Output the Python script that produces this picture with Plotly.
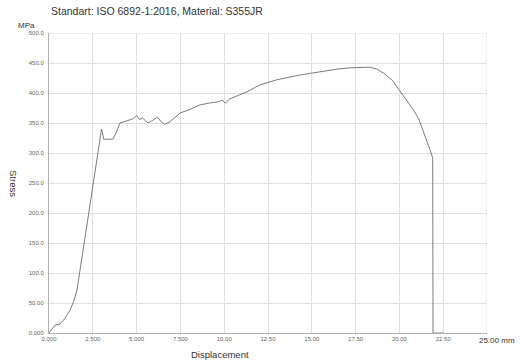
import plotly.graph_objects as go

# Tensile test record: displacement (mm) vs. engineering stress (MPa)
displacement = [0.0, 0.15, 0.34, 0.63, 0.9, 1.2, 1.4, 1.6, 1.8, 1.95, 2.3, 2.6, 2.9, 3.0,
                3.08, 3.12, 3.65, 3.85, 4.05, 4.4, 4.8, 5.0, 5.15, 5.35, 5.65, 5.9, 6.2,
                6.4, 6.6, 6.9, 7.2, 7.5, 8.0, 8.6, 9.1, 9.6, 9.9, 10.05, 10.3, 11.3, 12.0,
                13.0, 14.3, 15.5, 16.5, 17.2, 17.8, 18.3, 18.7, 19.1, 19.6, 20.0, 20.4,
                20.8, 21.1, 21.35, 21.6, 21.75, 21.9, 21.92, 22.5]
stress = [0, 6, 13, 15, 24, 38, 52, 72, 110, 145, 210, 268, 325, 340,
          330, 323, 323, 335, 350, 353, 357, 363, 356, 358, 350, 354, 360,
          352, 348, 352, 360, 367, 372, 380, 383, 385, 388, 383, 390, 402, 413,
          422, 430, 436, 440, 442, 443, 443, 440, 433, 421, 405, 390,
          372, 357, 338, 318, 305, 292, 0, 0]

x_ticks = [0, 2.5, 5, 7.5, 10, 12.5, 15, 17.5, 20, 22.5]
x_tick_text = ["0.000", "2.500", "5.000", "7.500", "10.00", "12.50", "15.00",
               "17.50", "20.00", "22.50"]
y_ticks = [0, 50, 100, 150, 200, 250, 300, 350, 400, 450, 500]
y_tick_text = ["0.000", "50.00", "100.0", "150.0", "200.0", "250.0", "300.0",
               "350.0", "400.0", "450.0", "500.0"]

title_text = "Standart: ISO 6892-1:2016, Material: S355JR"
font_family = "Liberation Sans, Arial, sans-serif"

fig = go.Figure()
fig.add_trace(go.Scatter(
    x=displacement, y=stress, mode="lines",
    line=dict(color="#7c7c7c", width=1),
    hoverinfo="skip", showlegend=False,
))

grid = "#e0e0e0"
fig.update_layout(
    width=520, height=364,
    margin=dict(l=49, r=33, t=33, b=31),
    paper_bgcolor="white", plot_bgcolor="white",
    font=dict(family=font_family, color="#444"),
    xaxis=dict(
        range=[0, 25], tickvals=x_ticks, ticktext=x_tick_text,
        showgrid=True, gridcolor=grid, gridwidth=1,
        showline=True, linecolor="#b0b0b0", linewidth=1, mirror=False,
        zeroline=False, ticks="", tickfont=dict(size=6, color="#666"),
        fixedrange=True,
    ),
    yaxis=dict(
        range=[0, 500], tickvals=y_ticks, ticktext=y_tick_text,
        showgrid=True, gridcolor=grid, gridwidth=1,
        showline=True, linecolor="#b0b0b0", linewidth=1,
        zeroline=False, ticks="", tickfont=dict(size=6, color="#666"),
        ticklabelstandoff=3, fixedrange=True,
    ),
    shapes=[
        # right and top borders of the grid
        dict(type="line", xref="x", yref="y", x0=25, x1=25, y0=0, y1=500,
             line=dict(color=grid, width=1)),
        dict(type="line", xref="x", yref="y", x0=0, x1=25, y0=500, y1=500,
             line=dict(color=grid, width=1)),
    ],
    annotations=[
        dict(text=title_text, xref="paper", yref="paper", x=0, y=1,
             xanchor="left", yanchor="bottom", yshift=14, showarrow=False,
             font=dict(size=10.5, color="#333")),
        dict(text="MPa", xref="paper", yref="paper", x=0, y=1,
             xanchor="right", yanchor="bottom", xshift=-12, yshift=1, showarrow=False,
             font=dict(size=8, color="#333")),
        dict(text="Stress", xref="paper", yref="paper", x=0, y=0.5,
             xanchor="center", yanchor="middle", xshift=-35, showarrow=False,
             textangle=90, font=dict(size=9.5, color="#333")),
        dict(text="Displacement", xref="paper", yref="paper", x=0.39, y=0,
             xanchor="center", yanchor="top", yshift=-14, showarrow=False,
             font=dict(size=9.5, color="#333")),
        dict(text="25.00 mm", xref="paper", yref="paper", x=1, y=0,
             xanchor="center", yanchor="top", xshift=10, yshift=-1, showarrow=False,
             font=dict(size=8, color="#333")),
    ],
)

fig.write_html("out.html")
